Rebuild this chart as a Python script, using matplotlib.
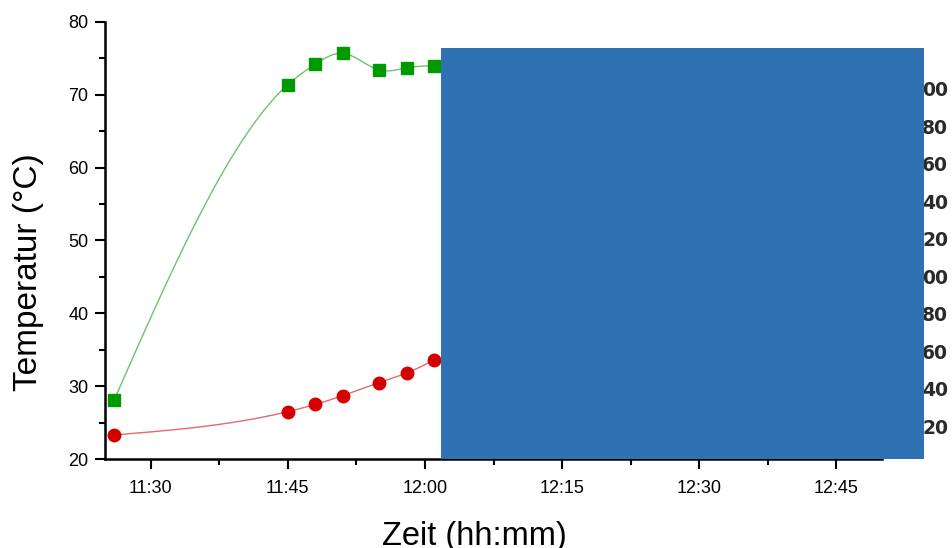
import numpy as np
import matplotlib
matplotlib.use("Agg")
import matplotlib.pyplot as plt
from matplotlib.patches import Rectangle

plt.rcParams['font.family'] = ['Liberation Sans', 'DejaVu Sans']

# measured times (hh:mm) and temperatures
times = ["11:26", "11:45", "11:48", "11:51", "11:55", "11:58", "12:01"]
temp_green = [28.1, 71.4, 74.2, 75.7, 73.4, 73.7, 74.0]
temp_red = [23.3, 26.5, 27.5, 28.7, 30.5, 31.8, 33.6]

xtick_labels = ["11:30", "11:45", "12:00", "12:15", "12:30", "12:45"]
right_labels = ["00", "80", "60", "40", "20", "00", "80", "60", "40", "20"]


def to_min(s):
    h, m = s.split(":")
    return int(h) * 60 + int(m)


def natural_spline(x, y, n=300):
    # natural cubic spline through the points, only used for the smooth line
    x = np.asarray(x, float)
    y = np.asarray(y, float)
    k = len(x)
    h = np.diff(x)
    A = np.zeros((k, k))
    b = np.zeros(k)
    A[0, 0] = A[-1, -1] = 1
    for i in range(1, k - 1):
        A[i, i - 1] = h[i - 1]
        A[i, i] = 2 * (h[i - 1] + h[i])
        A[i, i + 1] = h[i]
        b[i] = 6 * ((y[i + 1] - y[i]) / h[i] - (y[i] - y[i - 1]) / h[i - 1])
    M = np.linalg.solve(A, b)
    xs = np.linspace(x[0], x[-1], n)
    idx = np.clip(np.searchsorted(x, xs) - 1, 0, k - 2)
    x0, x1 = x[idx], x[idx + 1]
    hh = x1 - x0
    ys = (M[idx] * (x1 - xs) ** 3 / (6 * hh) + M[idx + 1] * (xs - x0) ** 3 / (6 * hh)
          + (y[idx] / hh - M[idx] * hh / 6) * (x1 - xs)
          + (y[idx + 1] / hh - M[idx + 1] * hh / 6) * (xs - x0))
    return xs, ys


t = np.array([to_min(s) for s in times])
tick_pos = [to_min(s) for s in xtick_labels]

fig = plt.figure(figsize=(9.52, 5.48), dpi=100)
ax = fig.add_axes([0.1103, 0.1624, 0.8162, 0.7975])

xs, ys = natural_spline(t, temp_green)
ax.plot(xs, ys, color="#6cc36c", lw=1.0)
ax.plot(t, temp_green, ls="none", marker="s", ms=8, color="#009900", mec="#009900")

xs, ys = natural_spline(t, temp_red)
ax.plot(xs, ys, color="#e36a6a", lw=1.0)
ax.plot(t, temp_red, ls="none", marker="o", ms=9, color="#d40000", mec="#d40000")

ax.set_xticks(tick_pos)
ax.set_xticklabels(xtick_labels)
ax.set_xticks(np.arange(to_min("11:30") + 7.5, to_min("12:50"), 15), minor=True)
ax.set_yticks(np.arange(20, 81, 10))
ax.set_yticks(np.arange(25, 80, 10), minor=True)
ax.set_xlim(to_min("11:25"), to_min("12:50"))
ax.set_ylim(20, 80)

for side in ["top", "right"]:
    ax.spines[side].set_visible(False)
for side in ["left", "bottom"]:
    ax.spines[side].set_linewidth(1.8)
ax.tick_params(which="major", direction="out", length=7, width=1.5, labelsize=13, pad=5)
ax.tick_params(which="minor", direction="out", length=4, width=1.5)
ax.tick_params(axis="x", pad=8)

ax.set_ylabel("Temperatur (°C)", fontsize=24)
ax.set_xlabel("Zeit (hh:mm)", fontsize=23.5)
ax.yaxis.set_label_coords(-0.078, 0.428)
ax.xaxis.set_label_coords(0.476, -0.141)
ax.xaxis.label.set_va("top")

# partly hidden tick labels of a second axis on the right
ry = np.linspace(91, 428, len(right_labels))
for lab, yy in zip(right_labels, ry):
    fig.text(922 / 952, 1 - yy / 548, lab, fontsize=13.5, fontweight="bold",
             family="DejaVu Sans", color="#2a2a2a", ha="left", va="center", zorder=1)

# blue box covering the right part of the chart
fig.patches.append(Rectangle((441 / 952, 1 - 459 / 548), (924 - 441) / 952, (459 - 48) / 548,
                             transform=fig.transFigure, facecolor="#2f72b3",
                             edgecolor="none", zorder=10))

fig.savefig("out.png", dpi=100)
